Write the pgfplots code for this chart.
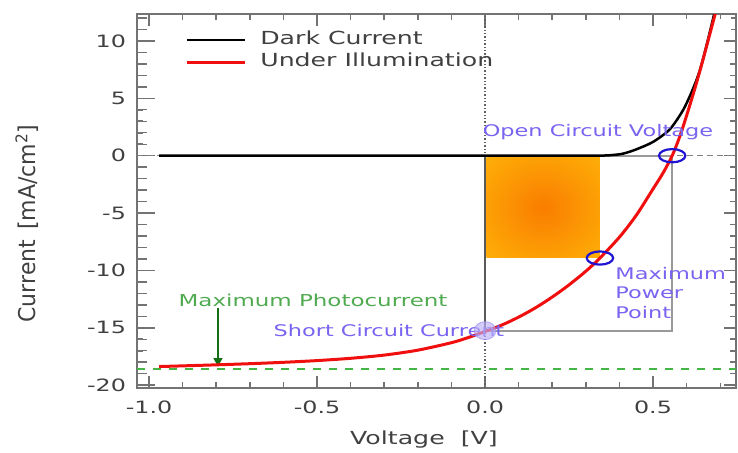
\documentclass[border=0pt]{standalone}
\usepackage{fontspec}
\setmainfont{DejaVu Sans}[FakeStretch=1.4]
\newfontfamily\plainfont{DejaVu Sans}
\usepackage{graphicx}
\usepackage{pgfplots}
\pgfplotsset{compat=1.18}
\usetikzlibrary{arrows.meta}
\definecolor{axgray}{gray}{0.45}
\definecolor{txtgray}{gray}{0.25}
\definecolor{lblblue}{RGB}{120,100,240}
\definecolor{circblue}{RGB}{30,20,210}
\definecolor{lblgreen}{RGB}{80,170,80}
\definecolor{arrgreen}{RGB}{20,110,20}
\definecolor{dashgreen}{RGB}{70,180,70}
\definecolor{orangeC}{RGB}{250,125,0}
\definecolor{goldC}{RGB}{255,195,10}
\definecolor{redC}{RGB}{240,15,15}
\pgfdeclareradialshading{rectglow}{\pgfpoint{0bp}{0bp}}{color(0bp)=(orangeC); color(50bp)=(goldC)}
\begin{document}
\begin{tikzpicture}
\begin{axis}[
  at={(0,0)}, anchor=south west,
  scale only axis, width=299.5pt, height=187pt,
  xmin=-1.036, xmax=0.747, ymin=-20.25, ymax=12.35,
  xtick={-1.0,-0.5,0.0,0.5}, ytick={-20,-15,-10,-5,0,5,10},
  minor x tick num=4, minor y tick num=4,
  xticklabel style={/pgf/number format/fixed, /pgf/number format/fixed zerofill, /pgf/number format/precision=1, /pgf/number format/assume math mode=true, yshift=-3pt},
  yticklabel style={/pgf/number format/assume math mode=true, xshift=-2pt},
  ticklabel style={font=\fontsize{8.5}{10}\selectfont, text=txtgray},
  tick align=inside,
  axis line style={axgray, line width=1pt},
  tick style={draw=axgray, line width=0.8pt},
  major tick length=6pt, minor tick length=3pt,
  xlabel={Voltage~~[V]},
  xlabel style={at={(axis description cs:0.479,-0.139)}, anchor=center, font=\fontsize{9}{10}\selectfont, text=txtgray},
  ylabel={\scalebox{1}[1.05]{\plainfont\fontsize{11}{13}\selectfont Current\hspace{0.45em}[mA/cm\textsuperscript{2}]}},
  ylabel style={at={(axis description cs:-0.1836,0.44)}, anchor=center, text=txtgray},
  legend style={draw=none, fill=none, at={(axis description cs:0.080,0.901)}, anchor=west,
    inner sep=0pt, row sep=2.5pt, column sep=7pt,
    nodes={inner sep=0pt, text height=6.5pt, text depth=2pt, font=\fontsize{9}{10}\selectfont, text=txtgray}},
  legend cell align=left,
  legend image code/.code={\draw[#1] (0pt,0pt) -- (29pt,0pt);},
  unbounded coords=jump,
]
% power rectangle (shaded)
\addplot[draw=none, shading=rectglow, forget plot] coordinates {(0.004,-0.2) (0.342,-0.2) (0.342,-8.9) (0.004,-8.9) (0.004,-0.2)};
% tick marks (bottom/top, left/right)
\addplot[axgray, line width=0.8pt, forget plot] coordinates {
(-1,-20.25)(-1,-19.47)(-1,nan)(-1,12.35)(-1,11.45)(-1,nan)
(-0.5,-20.25)(-0.5,-19.47)(-0.5,nan)(-0.5,12.35)(-0.5,11.45)(-0.5,nan)
(0,-20.25)(0,-19.47)(0,nan)(0,12.35)(0,11.45)(0,nan)
(0.5,-20.25)(0.5,-19.47)(0.5,nan)(0.5,12.35)(0.5,11.45)(0.5,nan)};
\addplot[axgray, line width=0.7pt, forget plot] coordinates {
(-0.9,-20.25)(-0.9,-19.81)(-0.9,nan)(-0.9,12.35)(-0.9,11.91)(-0.9,nan)
(-0.8,-20.25)(-0.8,-19.81)(-0.8,nan)(-0.8,12.35)(-0.8,11.91)(-0.8,nan)
(-0.7,-20.25)(-0.7,-19.81)(-0.7,nan)(-0.7,12.35)(-0.7,11.91)(-0.7,nan)
(-0.6,-20.25)(-0.6,-19.81)(-0.6,nan)(-0.6,12.35)(-0.6,11.91)(-0.6,nan)
(-0.4,-20.25)(-0.4,-19.81)(-0.4,nan)(-0.4,12.35)(-0.4,11.91)(-0.4,nan)
(-0.3,-20.25)(-0.3,-19.81)(-0.3,nan)(-0.3,12.35)(-0.3,11.91)(-0.3,nan)
(-0.2,-20.25)(-0.2,-19.81)(-0.2,nan)(-0.2,12.35)(-0.2,11.91)(-0.2,nan)
(-0.1,-20.25)(-0.1,-19.81)(-0.1,nan)(-0.1,12.35)(-0.1,11.91)(-0.1,nan)
(0.1,-20.25)(0.1,-19.81)(0.1,nan)(0.1,12.35)(0.1,11.91)(0.1,nan)
(0.2,-20.25)(0.2,-19.81)(0.2,nan)(0.2,12.35)(0.2,11.91)(0.2,nan)
(0.3,-20.25)(0.3,-19.81)(0.3,nan)(0.3,12.35)(0.3,11.91)(0.3,nan)
(0.4,-20.25)(0.4,-19.81)(0.4,nan)(0.4,12.35)(0.4,11.91)(0.4,nan)
(0.6,-20.25)(0.6,-19.81)(0.6,nan)(0.6,12.35)(0.6,11.91)(0.6,nan)
(0.7,-20.25)(0.7,-19.81)(0.7,nan)(0.7,12.35)(0.7,11.91)(0.7,nan)};
\addplot[axgray, line width=0.8pt, forget plot] coordinates {
(-1.036,-20)(-0.982,-20)(nan,-20)(0.747,-20)(0.714,-20)(nan,-20)
(-1.036,-15)(-0.982,-15)(nan,-15)(0.747,-15)(0.714,-15)(nan,-15)
(-1.036,-10)(-0.982,-10)(nan,-10)(0.747,-10)(0.714,-10)(nan,-10)
(-1.036,-5)(-0.982,-5)(nan,-5)(0.747,-5)(0.714,-5)(nan,-5)
(-1.036,0)(-0.982,0)(nan,0)(0.747,0)(0.714,0)(nan,0)
(-1.036,5)(-0.982,5)(nan,5)(0.747,5)(0.714,5)(nan,5)
(-1.036,10)(-0.982,10)(nan,10)(0.747,10)(0.714,10)(nan,10)};
\addplot[axgray, line width=0.7pt, forget plot] coordinates {
(-1.036,-19)(-1.006,-19)(nan,-19)(0.747,-19)(0.732,-19)(nan,-19)
(-1.036,-18)(-1.006,-18)(nan,-18)(0.747,-18)(0.732,-18)(nan,-18)
(-1.036,-17)(-1.006,-17)(nan,-17)(0.747,-17)(0.732,-17)(nan,-17)
(-1.036,-16)(-1.006,-16)(nan,-16)(0.747,-16)(0.732,-16)(nan,-16)
(-1.036,-14)(-1.006,-14)(nan,-14)(0.747,-14)(0.732,-14)(nan,-14)
(-1.036,-13)(-1.006,-13)(nan,-13)(0.747,-13)(0.732,-13)(nan,-13)
(-1.036,-12)(-1.006,-12)(nan,-12)(0.747,-12)(0.732,-12)(nan,-12)
(-1.036,-11)(-1.006,-11)(nan,-11)(0.747,-11)(0.732,-11)(nan,-11)
(-1.036,-9)(-1.006,-9)(nan,-9)(0.747,-9)(0.732,-9)(nan,-9)
(-1.036,-8)(-1.006,-8)(nan,-8)(0.747,-8)(0.732,-8)(nan,-8)
(-1.036,-7)(-1.006,-7)(nan,-7)(0.747,-7)(0.732,-7)(nan,-7)
(-1.036,-6)(-1.006,-6)(nan,-6)(0.747,-6)(0.732,-6)(nan,-6)
(-1.036,-4)(-1.006,-4)(nan,-4)(0.747,-4)(0.732,-4)(nan,-4)
(-1.036,-3)(-1.006,-3)(nan,-3)(0.747,-3)(0.732,-3)(nan,-3)
(-1.036,-2)(-1.006,-2)(nan,-2)(0.747,-2)(0.732,-2)(nan,-2)
(-1.036,-1)(-1.006,-1)(nan,-1)(0.747,-1)(0.732,-1)(nan,-1)
(-1.036,1)(-1.006,1)(nan,1)(0.747,1)(0.732,1)(nan,1)
(-1.036,2)(-1.006,2)(nan,2)(0.747,2)(0.732,2)(nan,2)
(-1.036,3)(-1.006,3)(nan,3)(0.747,3)(0.732,3)(nan,3)
(-1.036,4)(-1.006,4)(nan,4)(0.747,4)(0.732,4)(nan,4)
(-1.036,6)(-1.006,6)(nan,6)(0.747,6)(0.732,6)(nan,6)
(-1.036,7)(-1.006,7)(nan,7)(0.747,7)(0.732,7)(nan,7)
(-1.036,8)(-1.006,8)(nan,8)(0.747,8)(0.732,8)(nan,8)
(-1.036,9)(-1.006,9)(nan,9)(0.747,9)(0.732,9)(nan,9)
(-1.036,11)(-1.006,11)(nan,11)(0.747,11)(0.732,11)(nan,11)
(-1.036,12)(-1.006,12)(nan,12)(0.747,12)(0.732,12)(nan,12)};
% reference lines
\addplot[gray!75!black, densely dotted, line width=0.7pt, forget plot] coordinates {(0,-20.25) (0,12.35)};
\addplot[gray, densely dashed, line width=0.7pt, forget plot] coordinates {(-1.036,0) (0.747,0)};
\addplot[gray!80, line width=1pt, forget plot] coordinates {(0,0) (0.557,0) (0.557,-15.3) (0,-15.3)};
\addplot[gray!70!black, line width=1pt, forget plot] coordinates {(0,0) (0,-15.3)};
% maximum photocurrent
\addplot[dashgreen, dash pattern=on 4pt off 4pt, line width=0.7pt, forget plot] coordinates {(-1.036,-18.58) (0.747,-18.58)};
\addplot[arrgreen, line width=0.6pt, -{Triangle[width=4.5pt,length=4pt]}, forget plot] coordinates {(-0.795,-13.3) (-0.795,-18.35)};
% dark current
\addplot[black, line width=1.25pt, smooth, tension=0.45] coordinates {
(-0.97,0) (-0.5,0) (0,0) (0.3,0) (0.36,0.02) (0.4,0.12) (0.42,0.25) (0.45,0.55) (0.5,1.2) (0.55,2.3) (0.59,4.0) (0.62,5.9) (0.64,7.5) (0.66,9.7) (0.68,12.1) (0.69,13.4)};
\addlegendentry{Dark Current}
% under illumination
\addplot[redC, line width=1.5pt, smooth, tension=0.5] coordinates {
(-0.97,-18.38) (-0.9,-18.32) (-0.8,-18.23) (-0.7,-18.13) (-0.6,-18.01) (-0.5,-17.86) (-0.4,-17.66) (-0.3,-17.38) (-0.2,-16.95) (-0.1,-16.30) (-0.05,-15.85) (0,-15.32) (0.05,-14.76) (0.1,-14.07) (0.15,-13.26) (0.2,-12.32) (0.25,-11.26) (0.3,-10.07) (0.342,-8.92) (0.4,-7.1) (0.45,-5.2) (0.5,-2.9) (0.53,-1.5) (0.557,0) (0.58,1.7) (0.6,3.5) (0.625,5.9) (0.65,8.5) (0.68,11.8) (0.695,13.4)};
\addlegendentry{Under Illumination}
% markers
\addplot[only marks, mark=*, mark size=4.5pt, mark options={xscale=1.2, fill=lblblue!50, draw=lblblue!80, opacity=0.65}, forget plot] coordinates {(0,-15.25)};
\addplot[only marks, mark=o, mark size=3.3pt, mark options={xscale=2, line width=1.1pt, draw=circblue}, forget plot] coordinates {(0.557,0) (0.342,-8.92)};
% labels
\node[text=lblblue, font=\fontsize{8}{9}\selectfont] at (axis cs:0.336,2.1) {Open Circuit Voltage};
\node[text=lblblue, font=\fontsize{8}{9}\selectfont] at (axis cs:-0.286,-15.2) {Short Circuit Current};
\node[text=lblgreen, font=\fontsize{8.2}{9}\selectfont] at (axis cs:-0.512,-12.57) {Maximum Photocurrent};
\node[text=lblblue, anchor=west, align=left, inner sep=0pt, font=\fontsize{8}{9.75}\selectfont] at (axis cs:0.387,-11.95) {Maximum\\Power\\Point};
\end{axis}
\pgfresetboundingbox
\useasboundingbox (-68.5pt,-32pt) rectangle (300.5pt,194pt);
\end{tikzpicture}
\end{document}
